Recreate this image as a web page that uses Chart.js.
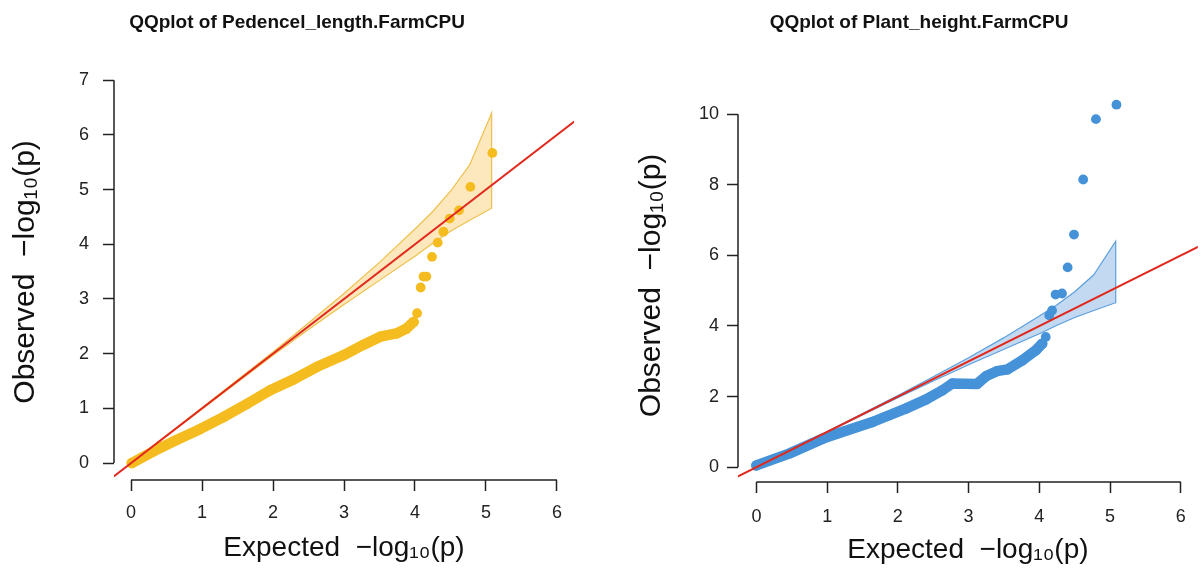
<!DOCTYPE html>
<html>
<head>
<meta charset="utf-8">
<title>QQ plots</title>
<script src="https://cdn.jsdelivr.net/npm/chart.js@4.4.1/dist/chart.umd.min.js"></script>
<style>
  html, body { margin: 0; padding: 0; background: #fff; }
  #wrap { position: relative; width: 1203px; height: 568px; }
  .panel { position: absolute; top: 0; }
</style>
</head>
<body>
<div id="wrap">
  <div class="panel" style="left:0"><canvas id="qqLeft" width="600" height="568"></canvas></div>
  <div class="panel" style="left:600px"><canvas id="qqRight" width="603" height="568"></canvas></div>
</div>
<script>
// values

const xTicks = [0, 1, 2, 3, 4, 5, 6]
const leftYTicks = [0, 1, 2, 3, 4, 5, 6, 7]
const rightYTicks = [0, 2, 4, 6, 8, 10]

// y = x reference line ends
const diagonal = [-1, 12]

// confidence band (same marker count in both panels)
const ciX = [0, 1, 2, 2.5, 3, 3.5, 4, 4.25, 4.5, 4.77, 5.08]
const ciUpper = [0, 1.01, 2.03, 2.56, 3.10, 3.67, 4.28, 4.60, 4.97, 5.45, 6.40]
const ciLower = [0, 0.99, 1.97, 2.44, 2.90, 3.34, 3.78, 4.02, 4.24, 4.44, 4.66]

// Pedencel_length: dense body of the curve, then single tail points
const leftBodyX = [0.01, 0.31, 0.64, 0.97, 1.30, 1.63, 1.96, 2.29, 2.62, 2.99, 3.27, 3.51, 3.74, 3.88, 3.98]
const leftBodyY = [0.00, 0.21, 0.42, 0.62, 0.84, 1.08, 1.33, 1.53, 1.76, 1.97, 2.16, 2.31, 2.37, 2.46, 2.58]
const leftTailX = [4.03, 4.08, 4.12, 4.16, 4.24, 4.32, 4.40, 4.49, 4.62, 4.78, 5.09]
const leftTailY = [2.74, 3.21, 3.41, 3.41, 3.77, 4.03, 4.23, 4.47, 4.62, 5.05, 5.67]

// Plant_height
const rightBodyX = [0.00, 0.47, 0.94, 1.17, 1.64, 2.11, 2.40, 2.63, 2.77, 3.12, 3.25, 3.40, 3.55, 3.76, 3.95, 4.04]
const rightBodyY = [0.05, 0.39, 0.81, 0.97, 1.28, 1.66, 1.92, 2.18, 2.37, 2.36, 2.58, 2.72, 2.77, 3.03, 3.31, 3.50]
const rightTailX = [4.09, 4.14, 4.18, 4.23, 4.32, 4.40, 4.49, 4.62, 4.80, 5.09]
const rightTailY = [3.69, 4.30, 4.44, 4.89, 4.92, 5.66, 6.59, 8.15, 9.86, 10.27]

const axisColor = '#222'
const redLine = '#e2281c'

Chart.defaults.font.family = "'Liberation Sans', Arial, sans-serif"
Chart.defaults.color = '#222'

function pairs (xs, ys) {
  return xs.map((x, i) => ({ x: x, y: ys[i] }))
}

// R style axes: the line only runs from first to last tick
const rAxes = {
  id: 'rAxes',
  afterDraw (chart) {
    const { ctx, chartArea, scales } = chart
    const x = scales.x
    const y = scales.y
    ctx.save()
    ctx.strokeStyle = axisColor
    ctx.lineWidth = 1.5
    ctx.beginPath()
    ctx.moveTo(x.getPixelForValue(x.ticks[0].value), chartArea.bottom)
    ctx.lineTo(x.getPixelForValue(x.ticks[x.ticks.length - 1].value), chartArea.bottom)
    ctx.moveTo(chartArea.left, y.getPixelForValue(y.ticks[0].value))
    ctx.lineTo(chartArea.left, y.getPixelForValue(y.ticks[y.ticks.length - 1].value))
    ctx.stroke()
    ctx.restore()
  }
}

function makeQQ (id, p) {
  const band = pairs(ciX, ciUpper).concat(pairs(ciX, ciLower).reverse())

  return new Chart(document.getElementById(id), {
    type: 'line',
    data: {
      datasets: [
        {
          data: pairs(diagonal, diagonal),
          borderColor: redLine,
          borderWidth: 2,
          pointRadius: 0,
          order: 0
        },
        {
          data: pairs(p.tailX, p.tailY),
          showLine: false,
          pointRadius: 4.9,
          pointBorderWidth: 0,
          pointBackgroundColor: p.dot,
          order: 1
        },
        {
          data: pairs(p.bodyX, p.bodyY),
          borderColor: p.dot,
          borderWidth: 10.5,
          borderCapStyle: 'round',
          borderJoinStyle: 'round',
          pointRadius: 5.2,
          pointBorderWidth: 0,
          pointBackgroundColor: p.dot,
          order: 2
        },
        {
          data: band,
          borderColor: p.bandLine,
          backgroundColor: p.bandFill,
          borderWidth: 1.2,
          pointRadius: 0,
          fill: 'shape',
          order: 3
        }
      ]
    },
    options: {
      responsive: false,
      animation: false,
      events: [],
      layout: { padding: p.padding },
      plugins: {
        legend: { display: false },
        tooltip: { enabled: false },
        title: {
          display: true,
          text: p.title,
          color: '#111',
          font: { size: 19, weight: 'bold' },
          padding: { top: 11, bottom: p.titleGap }
        }
      },
      scales: {
        x: {
          type: 'linear',
          min: p.xMin,
          max: 6.24,
          bounds: 'data',
          afterBuildTicks: (axis) => { axis.ticks = xTicks.map(v => ({ value: v })) },
          afterFit: (axis) => { axis.height = p.xHeight },
          border: { display: false },
          grid: { drawOnChartArea: false, drawTicks: true, tickLength: 11, tickWidth: 1.5, tickColor: axisColor },
          ticks: { padding: p.xTickPad, font: { size: 18 }, color: '#222', maxRotation: 0 },
          title: {
            display: true,
            text: 'Expected  −log₁₀(p)',
            color: '#111',
            font: { size: 28 },
            padding: { top: 0, bottom: p.xTitlePad }
          }
        },
        y: {
          type: 'linear',
          min: p.yMin,
          max: p.yMax,
          bounds: 'data',
          afterBuildTicks: (axis) => { axis.ticks = p.yTicks.map(v => ({ value: v })) },
          afterFit: (axis) => { axis.width = p.yWidth },
          border: { display: false },
          grid: { drawOnChartArea: false, drawTicks: true, tickLength: 11, tickWidth: 1.5, tickColor: axisColor },
          ticks: { padding: p.yTickPad, font: { size: 18 }, color: '#222' },
          title: {
            display: true,
            text: 'Observed  −log₁₀(p)',
            color: '#111',
            font: { size: 30 },
            padding: { top: p.yTitlePad, bottom: 0 }
          }
        }
      }
    },
    plugins: [rAxes]
  })
}

makeQQ('qqLeft', {
  title: 'QQplot of Pedencel_length.FarmCPU',
  bodyX: leftBodyX, bodyY: leftBodyY, tailX: leftTailX, tailY: leftTailY,
  yTicks: leftYTicks,
  dot: '#f5bc20',
  bandLine: '#eec04e',
  bandFill: 'rgba(247, 200, 95, 0.42)',
  padding: { left: 20, right: 26, top: 0, bottom: 0 },
  titleGap: 30,
  xMin: -0.24, yMin: -0.31, yMax: 7.3,
  xHeight: 88, yWidth: 94,
  xTickPad: 11, yTickPad: 14,
  xTitlePad: 3, yTitlePad: -12
})

makeQQ('qqRight', {
  title: 'QQplot of Plant_height.FarmCPU',
  bodyX: rightBodyX, bodyY: rightBodyY, tailX: rightTailX, tailY: rightTailY,
  yTicks: rightYTicks,
  dot: '#4592d8',
  bandLine: '#5c9fdd',
  bandFill: 'rgba(120, 170, 225, 0.45)',
  padding: { left: 39, right: 4, top: 0, bottom: 0 },
  titleGap: 55,
  xMin: -0.26, yMin: -0.42, yMax: 10.72,
  xHeight: 86, yWidth: 99,
  xTickPad: 13, yTickPad: 8,
  xTitlePad: 1, yTitlePad: -5
})
</script>
</body>
</html>
